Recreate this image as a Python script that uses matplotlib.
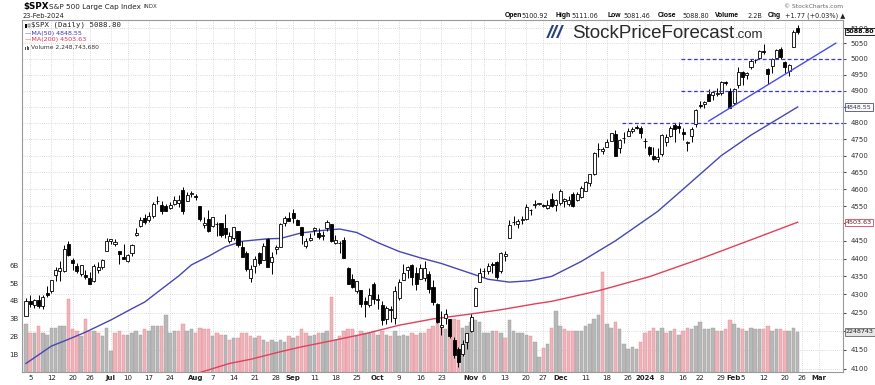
import matplotlib
matplotlib.use("Agg")
import matplotlib.pyplot as plt
import matplotlib.transforms as mtransforms
from matplotlib.patches import Rectangle
from matplotlib.ticker import FixedLocator, NullLocator
import numpy as np

# ---------------- data ----------------
jun_days = [2, 5, 6, 7, 8, 9, 12, 13, 14, 15, 16, 20, 21, 22, 23, 26, 27, 28, 29, 30]
jul_days = [3, 5, 6, 7, 10, 11, 12, 13, 14, 17, 18, 19, 20, 21, 24, 25, 26, 27, 28, 31]
aug_days = [1, 2, 3, 4, 7, 8, 9, 10, 11, 14, 15, 16, 17, 18, 21, 22, 23, 24, 25, 28, 29, 30, 31]
sep_days = [1, 5, 6, 7, 8, 11, 12, 13, 14, 15, 18, 19, 20, 21, 22, 25, 26, 27, 28, 29]
oct_days = [2, 3, 4, 5, 6, 9, 10, 11, 12, 13, 16, 17, 18, 19, 20, 23, 24, 25, 26, 27, 30, 31]
nov_days = [1, 2, 3, 6, 7, 8, 9, 10, 13, 14, 15, 16, 17, 20, 21, 22, 24, 27, 28, 29, 30]
dec_days = [1, 4, 5, 6, 7, 8, 11, 12, 13, 14, 15, 18, 19, 20, 21, 22, 26, 27, 28, 29]
jan_days = [2, 3, 4, 5, 8, 9, 10, 11, 12, 16, 17, 18, 19, 22, 23, 24, 25, 26, 29, 30, 31]
feb_days = [1, 2, 5, 6, 7, 8, 9, 12, 13, 14, 15, 16, 20, 21, 22, 23]

dates = ([f"2023-06-{d:02d}" for d in jun_days] + [f"2023-07-{d:02d}" for d in jul_days] +
         [f"2023-08-{d:02d}" for d in aug_days] + [f"2023-09-{d:02d}" for d in sep_days] +
         [f"2023-10-{d:02d}" for d in oct_days] + [f"2023-11-{d:02d}" for d in nov_days] +
         [f"2023-12-{d:02d}" for d in dec_days] + [f"2024-01-{d:02d}" for d in jan_days] +
         [f"2024-02-{d:02d}" for d in feb_days])

future_dates = ["2024-02-26", "2024-02-27", "2024-02-28", "2024-02-29", "2024-03-01",
                "2024-03-04", "2024-03-05", "2024-03-06", "2024-03-07", "2024-03-08", "2024-03-11"]

opens = [
 4241.0, 4282.0, 4271.3, 4285.5, 4268.7, 4304.9, 4308.3, 4352.6, 4366.3, 4365.3, 4440.0, 4396.1, 4380.0, 4355.4, 4354.2, 4344.8, 4337.4, 4367.5, 4374.9, 4422.4,
 4450.5, 4442.0, 4422.6, 4404.5, 4394.2, 4415.6, 4467.7, 4491.5, 4514.6, 4508.9, 4521.8, 4563.9, 4554.4, 4550.2, 4543.4, 4555.2, 4558.9, 4598.3, 4565.8, 4584.8,
 4578.8, 4550.9, 4494.3, 4513.9, 4491.6, 4498.0, 4501.6, 4487.2, 4450.7, 4458.1, 4478.9, 4433.8, 4416.3, 4344.9, 4380.3, 4415.3, 4396.4, 4455.2, 4389.4, 4426.0, 4432.8, 4500.3, 4517.0,
 4530.6, 4510.1, 4490.4, 4434.6, 4451.3, 4480.9, 4473.3, 4462.7, 4487.8, 4497.9, 4445.1, 4445.4, 4452.8, 4374.4, 4341.7, 4310.6, 4312.9, 4282.6, 4269.7, 4328.2,
 4284.5, 4269.8, 4233.8, 4259.3, 4234.8, 4289.0, 4339.8, 4366.6, 4380.9, 4360.5, 4342.4, 4345.2, 4357.4, 4321.4, 4273.9, 4210.4, 4235.8, 4232.4, 4176.0, 4152.9, 4139.4, 4171.3,
 4201.3, 4268.3, 4334.2, 4364.3, 4366.2, 4384.4, 4391.4, 4364.2, 4406.7, 4459.0, 4505.3, 4497.1, 4509.6, 4511.7, 4538.8, 4553.0, 4555.8, 4554.9, 4545.6, 4571.8, 4554.9,
 4559.4, 4564.4, 4557.3, 4586.2, 4568.8, 4576.2, 4593.4, 4618.3, 4646.2, 4721.0, 4714.2, 4725.6, 4743.7, 4764.7, 4724.3, 4753.9, 4758.9, 4773.5, 4786.4, 4782.9,
 4745.2, 4725.1, 4697.4, 4690.6, 4703.7, 4741.9, 4759.9, 4792.1, 4791.2, 4772.4, 4739.1, 4760.1, 4796.3, 4853.4, 4856.8, 4888.6, 4886.7, 4888.9, 4893.0, 4925.9, 4899.2,
 4861.1, 4916.1, 4957.2, 4950.2, 4973.1, 4995.2, 5004.2, 5026.8, 4967.9, 4976.4, 5003.1, 5031.1, 4989.3, 4963.0, 5038.8, 5100.92]
highs = [
 4290.7, 4299.3, 4288.3, 4299.2, 4298.0, 4322.6, 4340.1, 4375.4, 4391.8, 4439.2, 4448.5, 4400.2, 4386.2, 4382.2, 4366.6, 4362.1, 4384.4, 4390.4, 4398.4, 4458.5,
 4456.5, 4454.1, 4422.6, 4440.4, 4412.6, 4442.0, 4488.3, 4517.4, 4527.8, 4532.9, 4562.3, 4578.4, 4564.7, 4555.0, 4563.4, 4580.6, 4582.5, 4607.1, 4590.2, 4594.2,
 4584.6, 4550.9, 4519.5, 4540.3, 4519.8, 4503.3, 4502.4, 4527.4, 4476.2, 4490.3, 4478.9, 4449.9, 4421.2, 4381.8, 4407.6, 4418.6, 4443.2, 4458.3, 4418.5, 4439.6, 4500.1, 4521.7, 4532.3,
 4541.3, 4514.3, 4490.4, 4457.8, 4473.5, 4490.8, 4487.1, 4479.4, 4511.0, 4497.9, 4466.4, 4449.9, 4461.0, 4375.7, 4357.4, 4338.5, 4313.0, 4292.1, 4317.3, 4333.1,
 4300.6, 4281.2, 4268.5, 4267.1, 4324.1, 4341.7, 4385.5, 4378.6, 4385.9, 4377.1, 4383.3, 4393.6, 4364.2, 4339.5, 4276.6, 4255.8, 4259.4, 4232.4, 4183.6, 4156.7, 4177.5, 4195.6,
 4245.6, 4319.7, 4373.6, 4372.2, 4386.3, 4391.2, 4393.4, 4418.0, 4421.8, 4508.7, 4521.2, 4512.0, 4520.1, 4557.1, 4542.1, 4568.4, 4560.3, 4556.5, 4568.1, 4587.6, 4569.9,
 4599.4, 4574.1, 4578.6, 4590.7, 4590.9, 4609.2, 4623.7, 4643.9, 4709.7, 4738.6, 4725.5, 4749.5, 4768.7, 4778.0, 4748.7, 4772.9, 4784.7, 4785.4, 4793.3, 4788.4,
 4754.3, 4729.3, 4726.8, 4721.5, 4764.5, 4765.5, 4790.8, 4798.5, 4802.4, 4782.3, 4744.2, 4785.8, 4842.1, 4868.4, 4866.5, 4903.7, 4898.2, 4906.7, 4929.3, 4931.1, 4906.8,
 4907.0, 4975.3, 4963.2, 4957.8, 4999.9, 5000.4, 5030.1, 5048.4, 4971.3, 5002.5, 5032.7, 5038.7, 4993.6, 4983.2, 5094.4, 5111.06]
lows = [
 4241.0, 4266.8, 4263.1, 4263.9, 4261.1, 4291.7, 4304.4, 4337.7, 4337.9, 4362.6, 4407.4, 4367.2, 4360.1, 4351.8, 4341.3, 4328.1, 4335.0, 4360.2, 4371.9, 4422.4,
 4442.3, 4436.6, 4385.1, 4397.4, 4389.9, 4408.5, 4463.2, 4489.4, 4499.6, 4504.9, 4514.6, 4557.5, 4527.6, 4535.8, 4541.3, 4552.4, 4547.6, 4528.6, 4564.0, 4577.4,
 4567.5, 4505.8, 4485.5, 4474.6, 4491.2, 4464.4, 4461.3, 4457.9, 4443.9, 4453.4, 4432.2, 4403.6, 4364.8, 4335.3, 4360.3, 4382.8, 4396.4, 4375.6, 4356.3, 4414.0, 4431.7, 4493.3, 4507.4,
 4501.4, 4496.0, 4442.4, 4430.5, 4448.4, 4467.9, 4456.8, 4453.5, 4478.7, 4447.2, 4442.1, 4416.6, 4401.4, 4329.2, 4316.5, 4302.7, 4266.0, 4238.6, 4264.4, 4274.9,
 4260.2, 4216.5, 4220.5, 4225.9, 4219.6, 4283.8, 4339.6, 4345.3, 4325.4, 4312.0, 4342.4, 4337.5, 4303.8, 4269.7, 4223.0, 4189.2, 4219.4, 4181.4, 4127.9, 4103.8, 4132.9, 4153.1,
 4197.7, 4268.3, 4334.2, 4347.5, 4355.4, 4359.8, 4343.9, 4359.3, 4393.8, 4459.0, 4495.3, 4487.8, 4499.7, 4510.4, 4525.5, 4545.1, 4552.8, 4546.5, 4540.5, 4547.2, 4537.2,
 4554.7, 4546.7, 4551.7, 4546.5, 4565.2, 4574.1, 4593.4, 4608.1, 4643.2, 4694.3, 4704.7, 4725.6, 4743.7, 4697.8, 4708.4, 4736.8, 4758.9, 4768.9, 4781.0, 4752.0,
 4722.7, 4699.7, 4687.5, 4682.1, 4699.8, 4730.4, 4756.2, 4739.6, 4769.0, 4747.1, 4714.8, 4740.6, 4785.9, 4844.1, 4844.4, 4865.9, 4869.3, 4881.5, 4887.4, 4916.3, 4845.2,
 4853.5, 4908.0, 4918.1, 4934.9, 4969.1, 4987.1, 5000.3, 5016.3, 4920.3, 4956.5, 4999.4, 4999.5, 4955.0, 4946.0, 5038.8, 5081.46]
closes = [
 4282.4, 4273.8, 4283.9, 4267.5, 4293.9, 4298.9, 4338.9, 4369.0, 4372.6, 4425.8, 4409.6, 4388.7, 4365.7, 4381.9, 4348.3, 4328.8, 4378.4, 4376.9, 4396.4, 4450.4,
 4455.6, 4446.8, 4411.6, 4399.0, 4409.5, 4439.3, 4472.2, 4510.0, 4505.4, 4522.8, 4555.0, 4565.7, 4534.9, 4536.3, 4554.6, 4567.5, 4566.8, 4537.4, 4582.2, 4589.0,
 4576.7, 4513.4, 4501.9, 4478.0, 4518.4, 4499.4, 4467.7, 4468.8, 4464.1, 4489.7, 4437.9, 4404.3, 4370.4, 4369.7, 4399.8, 4387.6, 4436.0, 4376.3, 4405.7, 4433.3, 4497.6, 4514.9, 4507.7,
 4515.8, 4496.8, 4465.5, 4451.1, 4457.5, 4487.5, 4461.9, 4467.4, 4505.1, 4450.3, 4453.5, 4444.0, 4402.2, 4330.0, 4320.1, 4337.4, 4273.5, 4274.5, 4299.7, 4288.1,
 4288.4, 4229.5, 4263.8, 4258.2, 4308.5, 4335.7, 4358.2, 4377.0, 4349.6, 4327.8, 4373.6, 4373.2, 4314.6, 4278.0, 4224.2, 4217.0, 4247.7, 4186.8, 4137.2, 4117.4, 4166.8, 4193.8,
 4237.9, 4317.8, 4358.3, 4366.0, 4378.4, 4382.8, 4347.4, 4415.2, 4411.6, 4495.7, 4502.9, 4508.2, 4514.0, 4547.4, 4538.2, 4556.6, 4559.3, 4550.4, 4554.9, 4550.6, 4567.8,
 4594.6, 4569.8, 4567.2, 4549.3, 4585.6, 4604.4, 4622.4, 4643.7, 4707.1, 4719.6, 4719.2, 4740.6, 4768.4, 4698.4, 4746.8, 4754.6, 4774.8, 4781.6, 4783.4, 4769.8,
 4742.8, 4704.8, 4688.7, 4697.2, 4763.5, 4756.5, 4783.5, 4780.2, 4783.8, 4766.0, 4739.2, 4780.9, 4839.8, 4850.4, 4864.6, 4868.6, 4894.2, 4891.0, 4927.9, 4925.0, 4845.7,
 4906.2, 4958.6, 4942.8, 4954.2, 4995.1, 4997.9, 5026.6, 5021.8, 4953.2, 5000.6, 5029.7, 5005.6, 4975.5, 4981.8, 5087.0, 5088.80]
prev_close_before_start = 4221.0

volumes_b = [
 2.7, 2.2, 2.2, 2.6, 2.2, 2.1, 2.5, 2.5, 2.6, 2.6, 4.1, 2.4, 2.3, 2.0, 3.0, 2.3, 2.3, 2.2, 2.0, 2.5,
 1.2, 2.2, 2.3, 2.1, 2.1, 2.2, 2.3, 2.1, 2.4, 2.3, 2.6, 2.6, 2.6, 3.2, 2.2, 2.3, 2.3, 2.7, 2.3, 2.4,
 2.2, 2.5, 2.4, 2.4, 2.0, 2.2, 2.1, 2.1, 1.8, 1.9, 1.9, 2.2, 2.2, 2.0, 1.9, 2.0, 1.8, 1.7, 1.8, 1.7, 1.8, 1.7, 2.0,
 1.9, 2.0, 2.4, 2.2, 2.0, 2.1, 2.2, 2.2, 2.3, 4.2, 1.8, 2.0, 2.3, 2.4, 2.4, 2.1, 2.3, 2.2, 2.2, 2.3,
 2.1, 2.3, 2.1, 2.0, 2.3, 2.0, 2.1, 2.0, 2.2, 2.1, 2.2, 2.2, 2.4, 2.6, 2.75, 2.5, 2.4, 2.6, 3.0, 2.9, 2.5, 2.6,
 2.8, 2.9, 2.8, 2.2, 2.2, 2.3, 2.3, 2.2, 1.9, 2.9, 2.3, 2.2, 2.2, 2.1, 2.0, 1.7, 0.85, 1.35, 1.55, 2.5, 3.4,
 2.6, 2.4, 2.3, 2.3, 2.3, 2.3, 2.6, 2.7, 3.0, 3.2, 5.6, 2.7, 2.5, 2.8, 2.4, 1.6, 1.3, 1.4, 1.3, 1.7,
 2.2, 2.3, 2.5, 2.3, 2.5, 2.2, 2.3, 2.4, 2.1, 2.3, 2.5, 2.4, 2.6, 2.8, 2.4, 2.4, 2.5, 2.3, 2.3, 2.4, 2.9,
 2.7, 2.5, 2.4, 2.3, 2.5, 2.4, 2.4, 2.4, 2.6, 2.3, 2.4, 2.4, 2.3, 2.3, 2.5, 2.2487]

ma50_dates = ["2023-06-02", "2023-06-12", "2023-06-16", "2023-06-23", "2023-07-03", "2023-07-11",
              "2023-07-14", "2023-07-20", "2023-07-26", "2023-07-31", "2023-08-04", "2023-08-10",
              "2023-08-16", "2023-08-24", "2023-08-29", "2023-09-06", "2023-09-13", "2023-09-19",
              "2023-09-25", "2023-10-02", "2023-10-09", "2023-10-16", "2023-10-23", "2023-10-31",
              "2023-11-07", "2023-11-14", "2023-11-21", "2023-11-29", "2023-12-08", "2023-12-20",
              "2024-01-05", "2024-01-16", "2024-01-29", "2024-02-07", "2024-02-23"]
ma50_values = [4114, 4160, 4178, 4197, 4230, 4261, 4279, 4315, 4351, 4382, 4406, 4433,
               4449, 4456, 4457, 4473, 4480, 4484, 4474, 4445, 4420, 4402, 4386, 4362,
               4342, 4334, 4338, 4350, 4392, 4450, 4535, 4600, 4700, 4762, 4848.55]

ma200_dates = ["2023-08-02", "2023-08-11", "2023-08-18", "2023-08-29", "2023-09-06", "2023-09-15",
               "2023-09-27", "2023-10-09", "2023-10-19", "2023-10-31", "2023-11-10", "2023-11-22",
               "2023-11-29", "2023-12-14", "2024-01-03", "2024-01-22", "2024-02-07", "2024-02-23"]
ma200_values = [4090, 4114, 4125, 4145, 4158, 4174, 4193, 4216, 4233, 4245, 4258, 4274,
                4281, 4310, 4349, 4399, 4453, 4503.63]

h_levels = [5000, 4900, 4800]
h_level_starts = ["2024-01-12", "2024-01-12", "2023-12-21"]
trend_dates = ["2024-01-24", "2024-03-07"]
trend_values = [4805, 5051]

price_ticks = [4100, 4150, 4200, 4250, 4300, 4350, 4400, 4450, 4500, 4550, 4600,
               4650, 4700, 4750, 4800, 4850, 4900, 4950, 5000, 5050, 5100]
covered_price_ticks = [4200, 4500, 4850]   # hidden behind the value boxes
vol_ticks = [1, 2, 3, 4, 5, 6]
vol_tick_labels = ["1B", "2B", "3B", "4B", "5B", "6B"]

tick_dates = ["2023-06-05", "2023-06-12", "2023-06-20", "2023-06-26", "2023-07-03", "2023-07-10",
              "2023-07-17", "2023-07-24", "2023-08-01", "2023-08-07", "2023-08-14", "2023-08-21",
              "2023-08-28", "2023-09-01", "2023-09-11", "2023-09-18", "2023-09-25", "2023-10-02",
              "2023-10-09", "2023-10-16", "2023-10-23", "2023-11-01", "2023-11-06", "2023-11-13",
              "2023-11-20", "2023-11-27", "2023-12-01", "2023-12-11", "2023-12-18", "2023-12-26",
              "2024-01-02", "2024-01-08", "2024-01-16", "2024-01-22", "2024-01-29", "2024-02-01",
              "2024-02-05", "2024-02-12", "2024-02-20", "2024-02-26", "2024-03-01"]
tick_labels = ["5", "12", "20", "26", "Jul", "10", "17", "24", "Aug", "7", "14", "21", "28",
               "Sep", "11", "18", "25", "Oct", "9", "16", "23", "Nov", "6", "13", "20", "27",
               "Dec", "11", "18", "26", "2024", "8", "16", "22", "29", "Feb", "5", "12", "20",
               "26", "Mar"]

# ---------------- figure ----------------
W, H = 875, 385
fig = plt.figure(figsize=(W / 100, H / 100), dpi=100)
fig.patch.set_facecolor("white")

def fx(px):
    return px / W

def fy(py):
    return 1 - py / H

L, R, T, B = 22, 843, 20, 372
rect = [fx(L), fy(B), fx(R) - fx(L), fy(T) - fy(B)]

all_days = dates + future_dates
day_idx = {d: i for i, d in enumerate(all_days)}
n = len(dates)
x = np.arange(n)
o = np.array(opens); h = np.array(highs); lo = np.array(lows); c = np.array(closes)
vol = np.array(volumes_b)
XLIM = (-0.94, 192.7)
YLIM = (4091.5, 5126.5)

# base axes: grid, price ticks, date ticks
ax = fig.add_axes(rect)
ax.set_yscale("log")
ax.set_xlim(*XLIM)
ax.set_ylim(*YLIM)
ax.set_facecolor("white")

# volume axes (twin)
axv = ax.twinx()

ax.yaxis.set_major_locator(FixedLocator(price_ticks))
ax.yaxis.set_minor_locator(NullLocator())
ax.set_yticklabels(["" if p in covered_price_ticks else str(p) for p in price_ticks])
ax.yaxis.tick_right()
ax.yaxis.set_label_position("right")
ax.tick_params(axis="y", which="both", left=False, labelleft=False, right=True,
               labelright=True, labelsize=5, colors="#555555", length=2, pad=3.2,
               labelcolor="#333333")
ax.set_xticks([day_idx[d] for d in tick_dates])
ax.set_xticklabels(tick_labels)
ax.tick_params(axis="x", labelsize=5, length=0, pad=2.2, labelcolor="#222222")
for lab in ax.get_xticklabels():
    t = lab.get_text()
    if not (t.isdigit() and len(t) <= 2):
        lab.set_fontweight("bold")
ax.grid(True, axis="both", which="major", color="#cfcfcf", lw=0.6, ls=(0, (1, 1.6)))
for s in ax.spines.values():
    s.set_color("#9a9a9a")
    s.set_linewidth(0.8)

axv.set_ylim(0, (B - T) / 17.8)
axv.yaxis.set_major_locator(FixedLocator(vol_ticks))
axv.set_yticklabels(vol_tick_labels)
axv.yaxis.tick_left()
axv.tick_params(axis="y", left=True, labelleft=True, right=False, labelright=False,
                labelsize=5, length=0, pad=2.5, labelcolor="#333333")
axv.patch.set_visible(False)
for s in axv.spines.values():
    s.set_visible(False)
prev = np.concatenate([[prev_close_before_start], c[:-1]])
down = c < prev
vcol = np.where(down, "#efb3ba", "#b8b8b8")
vedge = np.where(down, "#dc8e99", "#9c9c9c")
axv.bar(x, vol, width=0.82, color=vcol, edgecolor=vedge, linewidth=0.3, zorder=1)

# price overlay axes
axp = fig.add_axes(rect, sharex=ax, sharey=ax)
axp.patch.set_visible(False)
axp.axis("off")
ax.set_zorder(0)
axv.set_zorder(1)
axp.set_zorder(2)

# moving averages
axp.plot([day_idx[d] for d in ma50_dates], ma50_values, color="#4747b3", lw=1.0, zorder=2)
axp.plot([day_idx[d] for d in ma200_dates], ma200_values, color="#e2405c", lw=1.0, zorder=2)

# candles
up = c >= o
axp.vlines(x, lo, h, color="black", lw=0.7, zorder=3)
body_bot = np.minimum(o, c)
body_h = np.maximum(np.abs(c - o), 0.8)
axp.bar(x, body_h, bottom=body_bot, width=0.72, color=np.where(up, "white", "black"),
        edgecolor="black", linewidth=0.6, zorder=4)

# annotations: horizontal levels and trendline
for lvl, sd in zip(h_levels, h_level_starts):
    axp.plot([day_idx[sd] + 0.6, XLIM[1]], [lvl, lvl], color="#3535ee", lw=0.9,
             ls=(0, (3, 2)), zorder=5)
axp.plot([day_idx[d] for d in trend_dates], trend_values, color="#4a4af0", lw=1.0, zorder=5)
axp.set_xlim(*XLIM)
axp.set_ylim(*YLIM)

# right-side value boxes
bt = mtransforms.blended_transform_factory(ax.transAxes, ax.transData)
box_x = 1.0035
ax.text(box_x, closes[-1], f"{closes[-1]:.2f}", transform=bt, fontsize=4.6, fontweight="bold",
        va="center", ha="left", color="black", zorder=10, clip_on=False,
        bbox=dict(boxstyle="square,pad=0.18", fc="white", ec="black", lw=0.6))
ax.text(box_x, ma50_values[-1], f"{ma50_values[-1]:.2f}", transform=bt, fontsize=4.6,
        va="center", ha="left", color="#333366", zorder=10, clip_on=False,
        bbox=dict(boxstyle="square,pad=0.18", fc="white", ec="#4747b3", lw=0.6))
ax.text(box_x, ma200_values[-1], f"{ma200_values[-1]:.2f}", transform=bt, fontsize=4.6,
        va="center", ha="left", color="#552222", zorder=10, clip_on=False,
        bbox=dict(boxstyle="square,pad=0.18", fc="white", ec="#e2405c", lw=0.6))
btv = mtransforms.blended_transform_factory(axv.transAxes, axv.transData)
axv.text(box_x, vol[-1], "2248743", transform=btv, fontsize=4.6, va="center", ha="left",
         color="#222222", zorder=10, clip_on=False,
         bbox=dict(boxstyle="square,pad=0.18", fc="#e6e6e6", ec="#666666", lw=0.6))

# ---------------- header texts ----------------
fig.text(fx(23), fy(7), r"\$SPX", fontsize=6.3, fontweight="bold", va="center", ha="left")
fig.text(fx(49), fy(7), "S&P 500 Large Cap Index", fontsize=5.2, va="center", ha="left",
         color="#222222")
fig.text(fx(143), fy(7), "INDX", fontsize=4, va="center", ha="left", color="#333333")
fig.text(fx(23), fy(16), "23-Feb-2024", fontsize=4.8, va="center", ha="left", color="#222222")
fig.text(fx(843), fy(6), "\u00a9 StockCharts.com", fontsize=4.3, va="center", ha="right",
         color="#666666")

hdr = [("Open", 505, True), ("5100.92", 521, False), ("High", 555, True), ("5111.06", 571, False),
       ("Low", 608, True), ("5081.46", 623, False), ("Close", 658, True), ("5088.80", 682, False),
       ("Volume", 715, True), ("2.2B", 747, False), ("Chg", 768, True),
       ("+1.77 (+0.03%) \u25b2", 785, False)]
for txt, px, bold in hdr:
    if bold:
        fig.text(fx(px), fy(15.5), txt, fontsize=4.9, fontweight="bold", va="center", ha="left",
                 family="Liberation Sans", color="black")
    else:
        fig.text(fx(px), fy(15.5), txt, fontsize=4.7, va="center", ha="left", color="#222222")

# legend inside plot (upper left)
fig.add_artist(Rectangle((fx(25), fy(27.5)), 2 / W, 4 / H, fc="black", ec="none"))
fig.add_artist(Rectangle((fx(28), fy(26.5)), 2 / W, 3 / H, fc="white", ec="black", lw=0.3))
fig.text(fx(31), fy(25), r"\$SPX (Daily) 5088.80", fontsize=5.3, family="DejaVu Sans Mono",
         va="center", ha="left", color="#222222")
fig.text(fx(25), fy(33), "\u2014MA(50) 4848.55", fontsize=4.6, va="center", ha="left",
         color="#3b3ba8")
fig.text(fx(25), fy(40), "\u2014MA(200) 4503.63", fontsize=4.6, va="center", ha="left",
         color="#e0304f")
for bx, bh in [(25, 3), (26.5, 4), (28, 2.5)]:
    fig.add_artist(Rectangle((fx(bx), fy(49.5)), 1 / W, bh / H, fc="#555555", ec="none"))
fig.text(fx(31), fy(47.5), "Volume 2,248,743,680", fontsize=4.3, va="center", ha="left",
         color="#333333")

# watermark logo
fig.text(fx(547), fy(38), "///", fontsize=14, fontweight="bold", style="italic",
         family="Liberation Sans", color="#27427c", va="baseline", ha="left")
fig.text(fx(572), fy(38), "StockPriceForecast", fontsize=13.5, family="Liberation Sans",
         color="#2a2a2a", va="baseline", ha="left")
fig.text(fx(735), fy(38), ".com", fontsize=9.5, family="Liberation Sans",
         color="#2a2a2a", va="baseline", ha="left")

fig.savefig("out.png", dpi=100, facecolor="white")
